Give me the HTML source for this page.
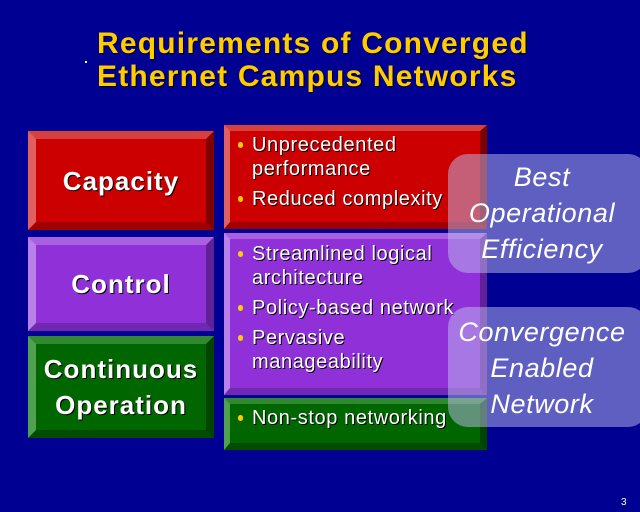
<!DOCTYPE html>
<html><head><style>
*{margin:0;padding:0;box-sizing:border-box}
body{width:640px;height:512px;background:#000092;position:relative;overflow:hidden;font-family:"Liberation Sans",sans-serif}
.a{position:absolute}
.t{color:#ffcc00;font-weight:bold;font-size:30px;letter-spacing:1.2px;line-height:33px;left:97px;top:27px;text-shadow:1px 1px 0 #000}
.bx{position:absolute;border-style:solid}
.lb{color:#fff;font-weight:bold;font-size:26px;letter-spacing:1px;text-align:center;text-shadow:1px 1px 0 #000;display:flex;align-items:center;justify-content:center;line-height:36px}
.red{background:#cc0000;border-color:#d84040 #800000 #a00000 #e06060}
.pur{background:#9030d8;border-color:#a860e0 #602098 #7028b0 #b880e8}
.grn{background:#006600;border-color:#308830 #004400 #004c00 #50a050}
.L{border-width:8px}
.R{border-width:6px 7px 7px 6px}
ul{list-style:none;color:#fff;font-size:20px;letter-spacing:0.6px;line-height:24px;text-shadow:1px 1px 0 #000;padding-left:22px;white-space:nowrap}
li{position:relative;margin-bottom:6px}
li:before{content:"";position:absolute;left:-14px;top:9px;width:5px;height:6px;border-radius:3px;background:#ffcc00}
.ov{position:absolute;left:448px;width:200px;border-radius:20px;background:rgba(190,190,240,0.5);color:#fff;font-style:italic;font-size:27px;letter-spacing:0.6px;line-height:36px;text-align:center;padding-right:12px}
</style></head><body>
<div class="a" style="left:85px;top:61px;width:2px;height:2px;background:#fff"></div>
<div class="a t">Requirements of Converged<br>Ethernet Campus Networks</div>

<div class="bx L red lb" style="left:28px;top:131px;width:186px;height:99px">Capacity</div>
<div class="bx L pur lb" style="left:28px;top:237px;width:186px;height:94px">Control</div>
<div class="bx L grn lb" style="left:28px;top:336px;width:186px;height:102px">Continuous<br>Operation</div>

<div class="bx R red" style="left:224px;top:125px;width:263px;height:104px"><ul style="padding-top:2px"><li>Unprecedented<br>performance</li><li>Reduced complexity</li></ul></div>
<div class="bx R pur" style="left:224px;top:233px;width:263px;height:162px"><ul style="padding-top:3px"><li>Streamlined logical<br>architecture</li><li>Policy-based network</li><li>Pervasive<br>manageability</li></ul></div>
<div class="bx R grn" style="left:224px;top:398px;width:263px;height:52px"><ul style="padding-top:2px"><li>Non-stop networking</li></ul></div>

<div class="ov" style="top:154px;height:119px;padding-top:5px">Best<br>Operational<br>Efficiency</div>
<div class="ov" style="top:307px;height:120px;padding-top:7px">Convergence<br>Enabled<br>Network</div>

<div class="a" style="left:621px;top:497px;color:#fff;font-size:10px">3</div>
</body></html>
